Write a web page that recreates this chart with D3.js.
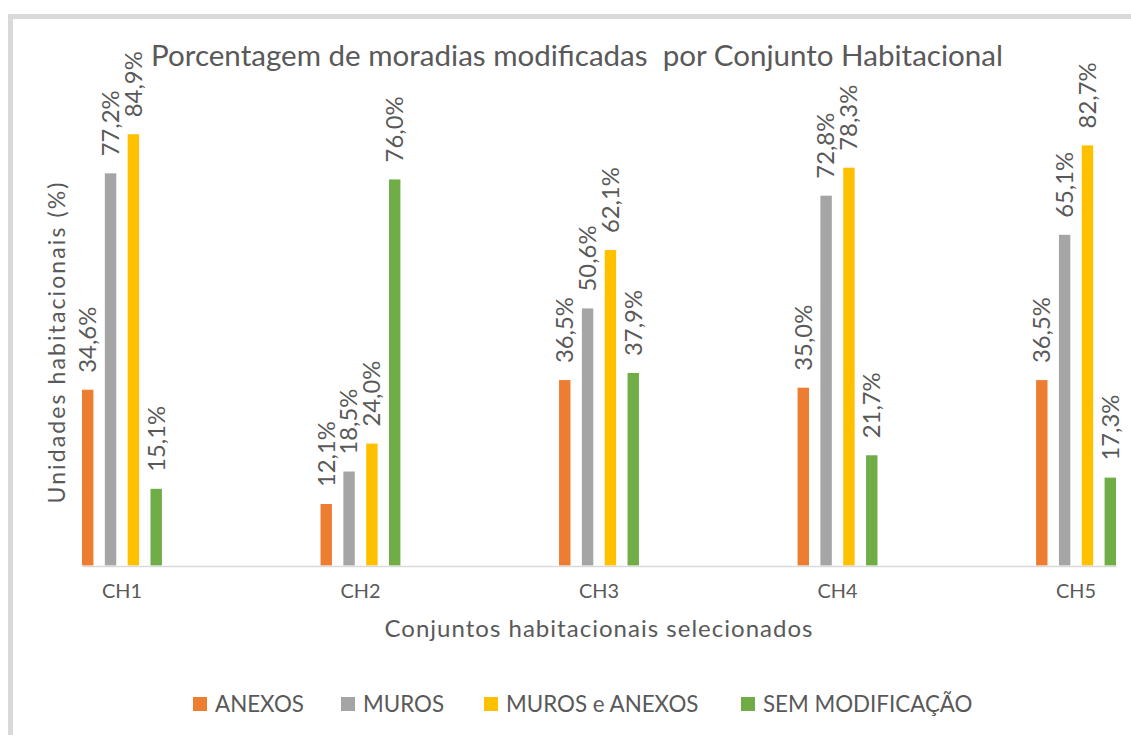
<!DOCTYPE html>
<html>
<head>
<meta charset="utf-8">
<script src="https://cdn.jsdelivr.net/npm/d3@7"></script>
<style>
  html, body { margin: 0; padding: 0; background: #fff; }
  svg text { font-family: Lato, "Open Sans", sans-serif; fill: #595959; white-space: pre; }
</style>
</head>
<body>
<svg id="chart" width="1131" height="735"></svg>
<script>
// Data
const categories = ["CH1", "CH2", "CH3", "CH4", "CH5"];
const seriesNames = ["ANEXOS", "MUROS", "MUROS e ANEXOS", "SEM MODIFICAÇÃO"];
const anexos = [34.6, 12.1, 36.5, 35.0, 36.5];
const muros = [77.2, 18.5, 50.6, 72.8, 65.1];
const murosAnexos = [84.9, 24.0, 62.1, 78.3, 82.7];
const semModificacao = [15.1, 76.0, 37.9, 21.7, 17.3];
const seriesColors = ["#ED7D31", "#A5A5A5", "#FFC000", "#70AD47"];
const chartTitle = "Porcentagem de moradias modificadas  por Conjunto Habitacional";
const xTitle = "Conjuntos habitacionais selecionados";
const yTitle = "Unidades habitacionais (%)";

const seriesValues = [anexos, muros, murosAnexos, semModificacao];
const rows = categories.map((c, i) => ({
  cat: c,
  values: seriesNames.map((s, j) => ({ series: s, idx: j, value: seriesValues[j][i] }))
}));

const ptBR = d3.formatLocale({ decimal: ",", thousands: ".", grouping: [3], currency: ["R$", ""] });
const fmt = v => ptBR.format(".1f")(v) + "%";

const svg = d3.select("#chart");

// Scale a text's font size so its rendered length hits a target
function fitText(sel, target, start) {
  sel.style("font-size", start + "px");
  const len = sel.node().getComputedTextLength();
  const size = start * target / len;
  sel.style("font-size", size + "px");
  return size;
}

// Keep the font size and adjust letter spacing to reach a target length
function spaceText(sel, target, size) {
  sel.style("font-size", size + "px").style("letter-spacing", "0px");
  const len = sel.node().getComputedTextLength();
  const n = sel.text().length;
  sel.style("letter-spacing", ((target - len) / (n - 1)) + "px");
}

// Outer frame
svg.append("rect")
  .attr("x", 10.5).attr("y", 16.5)
  .attr("width", 1200).attr("height", 800)
  .attr("fill", "#fff")
  .attr("stroke", "#d9d9d9").attr("stroke-width", 5);

// Scales
const x0 = d3.scaleBand().domain(categories).range([82, 1116]).paddingInner(0.665).paddingOuter(0);
const x1 = d3.scaleBand().domain(seriesNames).range([0, x0.bandwidth()]).paddingInner(0.5).paddingOuter(0);
const y = d3.scaleLinear().domain([0, 100]).range([565.5, 57.5]);

// Bars
const groups = svg.append("g").selectAll("g.group")
  .data(rows).join("g")
  .attr("class", "group")
  .attr("transform", d => `translate(${x0(d.cat)},0)`);

groups.selectAll("rect")
  .data(d => d.values).join("rect")
  .attr("x", d => x1(d.series))
  .attr("y", d => y(d.value))
  .attr("width", x1.bandwidth())
  .attr("height", d => y(0) - y(d.value))
  .attr("fill", d => seriesColors[d.idx]);

// Value labels, rotated above each bar
const labels = groups.selectAll("text.val")
  .data(d => d.values).join("text")
  .attr("class", "val")
  .attr("transform", d => `translate(${x1(d.series) + x1.bandwidth() / 2},${y(d.value) - 17}) rotate(-90)`)
  .attr("dy", "0.35em")
  .attr("text-anchor", "start")
  .text(d => fmt(d.value));
const refLabel = labels.filter(d => d.value === 84.9);
const labelSize = fitText(refLabel, 66, 24);
labels.style("font-size", labelSize + "px");

// X axis
const xAxis = svg.append("g")
  .attr("transform", `translate(0,${566})`)
  .call(d3.axisBottom(x0).tickSize(0).tickSizeOuter(0));
xAxis.select(".domain").attr("stroke", "#d9d9d9").attr("stroke-width", 1.6);
const tickTexts = xAxis.selectAll(".tick text")
  .attr("y", 32).attr("dy", 0)
  .attr("fill", "#595959")
  .attr("font-family", null).attr("font-size", null);
const catSize = fitText(tickTexts.filter(d => d === "CH1"), 40, 24);
tickTexts.style("font-size", catSize + "px");

// Title
const title = svg.append("text")
  .attr("x", 577).attr("y", 66)
  .attr("text-anchor", "middle")
  .text(chartTitle);
fitText(title, 852, 26);

// Axis titles
const xt = svg.append("text")
  .attr("x", 599).attr("y", 637)
  .attr("text-anchor", "middle")
  .text(xTitle);
spaceText(xt, 428, 24);

const yt = svg.append("text")
  .attr("transform", "translate(65,342) rotate(-90)")
  .attr("text-anchor", "middle")
  .text(yTitle);
spaceText(yt, 321, 23);

// Legend
const legendX = [193, 341, 484, 741];
const items = svg.append("g").selectAll("g.item")
  .data(seriesNames).join("g").attr("class", "item");
items.append("rect")
  .attr("x", (d, i) => legendX[i])
  .attr("y", 697)
  .attr("width", 14).attr("height", 14)
  .attr("fill", (d, i) => seriesColors[i]);
const legTexts = items.append("text")
  .attr("x", (d, i) => legendX[i] + 22)
  .attr("y", 712)
  .text(d => d);
const legSize = fitText(legTexts.filter(d => d === "ANEXOS"), 89, 22);
legTexts.style("font-size", legSize + "px");
</script>
</body>
</html>
